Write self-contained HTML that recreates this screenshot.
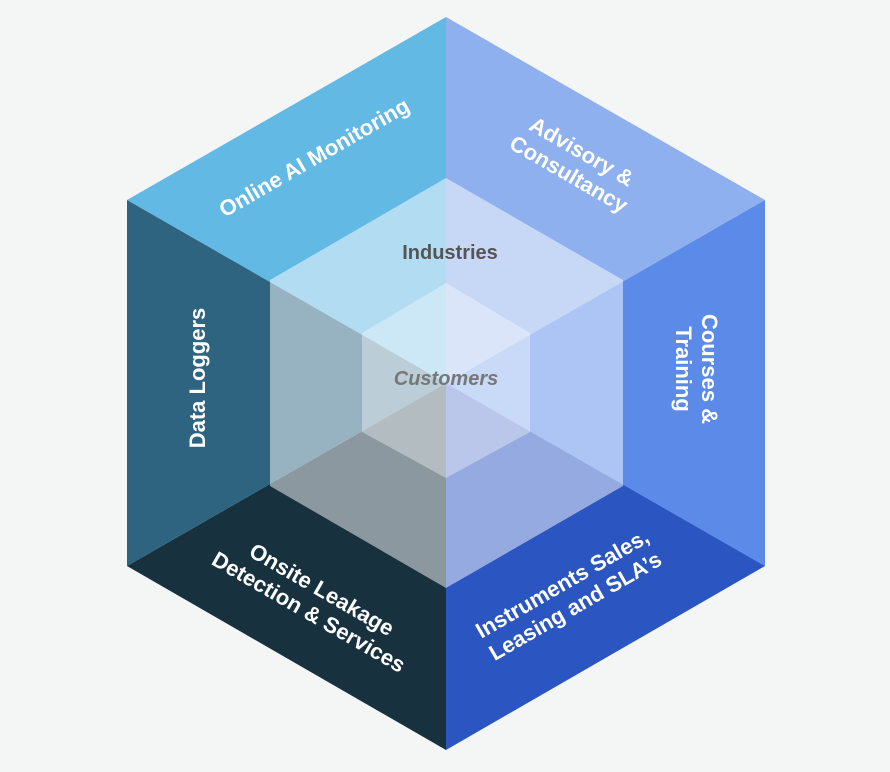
<!DOCTYPE html>
<html><head><meta charset="utf-8"><style>
html,body{margin:0;padding:0;background:#f4f6f6;}
svg{display:block}
text{font-family:"Liberation Sans",sans-serif;font-weight:bold;}
</style></head><body>
<svg width="890" height="772" viewBox="0 0 890 772" xmlns="http://www.w3.org/2000/svg">
<rect width="890" height="772" fill="#f4f6f6"/>
<g>
<polygon points="446,383 446,17 127,200" fill="#62b9e4"/>
<polygon points="446,383 446,17 765,200" fill="#8fb0ee"/>
<polygon points="446,383 765,200 765,566" fill="#5b8ae8"/>
<polygon points="446,383 765,566 446,750" fill="#2b55c0"/>
<polygon points="446,383 446,750 127,566" fill="#17313f"/>
<polygon points="446,383 127,566 127,200" fill="#2e6480"/>
</g>
<polygon points="446,178 623,280 623,486 446,588 270,486 270,280" fill="#ffffff" fill-opacity="0.5"/>
<polygon points="446,283 530,333 530,432 446,478 362,432 362,333" fill="#ffffff" fill-opacity="0.35"/>
<g fill="#ffffff" font-size="22" text-anchor="middle">
<text transform="translate(318,164) rotate(-30)">Online AI Monitoring</text>
<text transform="translate(578,158) rotate(30)"><tspan x="0" y="0">Advisory &amp;</tspan><tspan x="0" y="26">Consultancy</tspan></text>
<text transform="translate(702,369) rotate(90)"><tspan x="0" y="0">Courses &amp;</tspan><tspan x="0" y="26">Training</tspan></text>
<text transform="translate(566,590) rotate(-30)"><tspan x="0" y="0">Instruments Sales,</tspan><tspan x="0" y="26">Leasing and SLA’s</tspan></text>
<text transform="translate(318,596) rotate(30)"><tspan x="0" y="0">Onsite Leakage</tspan><tspan x="0" y="26">Detection &amp; Services</tspan></text>
<text transform="translate(205,378) rotate(-90)">Data Loggers</text>
</g>
<text x="450" y="259" font-size="20" fill="#555" text-anchor="middle">Industries</text>
<text x="446" y="385" font-size="20" fill="#777" font-style="italic" text-anchor="middle">Customers</text>
</svg>
</body></html>
